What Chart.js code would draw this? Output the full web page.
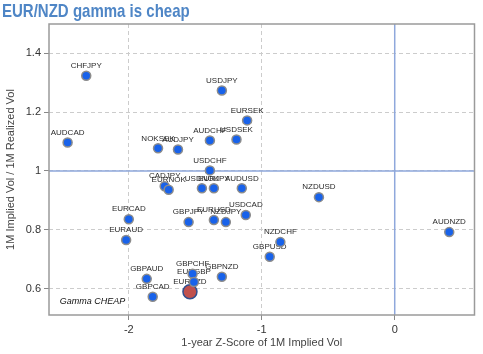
<!DOCTYPE html>
<html>
<head>
<meta charset="utf-8">
<script src="https://cdn.jsdelivr.net/npm/chart.js@4"></script>
<style>
  html, body { margin: 0; padding: 0; background: #fff; }
  #wrap { position: relative; width: 483px; height: 354px; }
  #titre {
    position: absolute; left: 2px; top: 0px;
    font-family: "Liberation Sans", Arial, sans-serif;
    font-weight: bold; font-size: 19px; color: #4f86c6; line-height: 22px;
    transform: scaleX(0.79); transform-origin: 0 0; white-space: nowrap;
  }
</style>
</head>
<body>
<div id="wrap">
  <canvas id="chart" width="483" height="354"></canvas>
  <div id="titre">EUR/NZD gamma is cheap</div>
</div>
<script>
// paires de devises (hors EURNZD)
var pairs = ['CHFJPY', 'USDJPY', 'EURSEK', 'AUDCAD', 'NOKSEK', 'AUDJPY', 'AUDCHF', 'USDSEK',
  'USDCHF', 'CADJPY', 'EURNOK', 'USDNOK', 'EURJPY', 'AUDUSD', 'NZDUSD', 'USDCAD',
  'GBPJPY', 'EURUSD', 'NZDJPY', 'EURCAD', 'EURAUD', 'NZDCHF', 'GBPUSD', 'AUDNZD',
  'GBPAUD', 'GBPCHF', 'EURGBP', 'GBPNZD', 'GBPCAD'];
// z-score 1 an de la vol implicite 1M
var zScore = [-2.32, -1.30, -1.11, -2.46, -1.78, -1.63, -1.39, -1.19,
  -1.39, -1.73, -1.70, -1.45, -1.36, -1.15, -0.57, -1.12,
  -1.55, -1.36, -1.27, -2.00, -2.02, -0.86, -0.94, 0.41,
  -1.865, -1.52, -1.51, -1.30, -1.82];
// vol implicite 1M / vol réalisée 1M
var ratio = [1.324, 1.274, 1.172, 1.097, 1.077, 1.073, 1.104, 1.107,
  1.002, 0.948, 0.936, 0.941, 0.941, 0.941, 0.911, 0.850,
  0.826, 0.833, 0.826, 0.836, 0.765, 0.758, 0.708, 0.792,
  0.633, 0.650, 0.622, 0.640, 0.572];
// point mis en avant
var focusPair = ['EURNZD'];
var focusZ = [-1.54];
var focusRatio = [0.589];

var xTicks = [-2, -1, 0];
var yTicks = [0.6, 0.8, 1, 1.2, 1.4];

function points(xs, ys) {
  return xs.map(function(v, i) { return { x: v, y: ys[i] }; });
}

// étiquettes au-dessus des points, lignes bleues et cadre
var decor = {
  id: 'decor',
  beforeDatasetsDraw: function(chart) {
    var ctx = chart.ctx, a = chart.chartArea;
    var sx = chart.scales.x, sy = chart.scales.y;
    ctx.save();
    ctx.strokeStyle = '#8fa8dc';
    ctx.lineWidth = 1.5;
    var x0 = sx.getPixelForValue(0), y1 = sy.getPixelForValue(1);
    ctx.beginPath();
    ctx.moveTo(x0, a.top); ctx.lineTo(x0, a.bottom);
    ctx.moveTo(a.left, y1); ctx.lineTo(a.right, y1);
    ctx.stroke();
    ctx.strokeStyle = '#9a9a9a';
    ctx.lineWidth = 1.5;
    ctx.strokeRect(a.left, a.top, a.right - a.left, a.bottom - a.top);
    // texte "Gamma CHEAP"
    ctx.fillStyle = '#111';
    ctx.font = 'italic 9px "Liberation Sans", Arial, sans-serif';
    ctx.textAlign = 'left';
    ctx.textBaseline = 'middle';
    ctx.fillText('Gamma CHEAP', sx.getPixelForValue(-2.52), sy.getPixelForValue(0.555));
    // étiquettes
    ctx.fillStyle = '#2a2a2a';
    ctx.font = '8px "Liberation Sans", Arial, sans-serif';
    ctx.textAlign = 'center';
    ctx.textBaseline = 'bottom';
    chart.data.datasets.forEach(function(ds, di) {
      var meta = chart.getDatasetMeta(di);
      meta.data.forEach(function(el, i) {
        ctx.fillText(ds.names[i], el.x, el.y - 6);
      });
    });
    ctx.restore();
  }
};

var ctx = document.getElementById('chart').getContext('2d');
var graphique = new Chart(ctx, {
  type: 'scatter',
  data: {
    datasets: [{
      names: pairs,
      data: points(zScore, ratio),
      backgroundColor: '#1862ea',
      borderColor: '#8c8c8c',
      borderWidth: 1.5,
      pointRadius: 4.5
    }, {
      names: focusPair,
      data: points(focusZ, focusRatio),
      backgroundColor: '#c0504d',
      borderColor: '#2f4f8f',
      borderWidth: 1.5,
      pointRadius: 7
    }]
  },
  plugins: [decor],
  options: {
    responsive: false,
    animation: false,
    layout: { padding: { top: 24, right: 6, left: 0, bottom: 0 } },
    plugins: { legend: { display: false }, tooltip: { enabled: false } },
    scales: {
      x: {
        min: -2.6, max: 0.6,
        afterBuildTicks: function(s) { s.ticks = xTicks.map(function(v) { return { value: v }; }); },
        afterFit: function(s) { s.height = 39; },
        grid: { color: '#cccccc', lineWidth: 1, tickLength: 5, tickColor: '#888', drawTicks: true },
        border: { display: false, dash: [4, 3] },
        ticks: { color: '#333', font: { size: 11, family: '"Liberation Sans", Arial' }, padding: 3,
          callback: function(v) { return String(v); } },
        title: { display: true, text: '1-year Z-Score of 1M Implied Vol', color: '#444',
          font: { size: 11, family: '"Liberation Sans", Arial' }, padding: { top: 0 } }
      },
      y: {
        min: 0.51, max: 1.5,
        afterBuildTicks: function(s) { s.ticks = yTicks.map(function(v) { return { value: v }; }); },
        afterFit: function(s) { s.width = 49; },
        grid: { color: '#cccccc', lineWidth: 1, tickLength: 5, tickColor: '#888', drawTicks: true },
        border: { display: false, dash: [4, 3] },
        ticks: { color: '#333', font: { size: 11, family: '"Liberation Sans", Arial' }, padding: 3,
          callback: function(v) { return String(v); } },
        title: { display: true, text: '1M Implied Vol / 1M Realized Vol', color: '#444',
          font: { size: 11, family: '"Liberation Sans", Arial' }, padding: { bottom: 4 } }
      }
    }
  }
});
</script>
</body>
</html>
